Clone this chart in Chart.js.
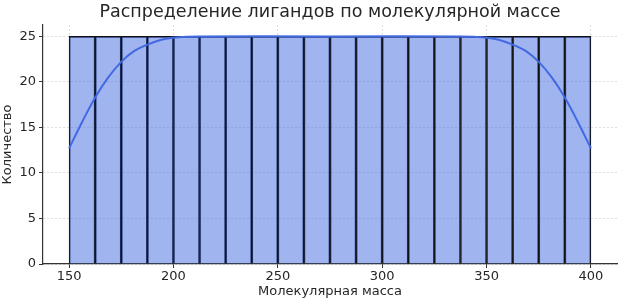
<!DOCTYPE html>
<html>
<head>
<meta charset="utf-8">
<script src="https://cdn.jsdelivr.net/npm/chart.js@4"></script>
<style>
  html, body { margin: 0; padding: 0; background: #fff; }
  #wrap { width: 621px; height: 300px; }
</style>
</head>
<body>
<div id="wrap"><canvas id="c" width="621" height="300"></canvas></div>
<script>
// Histogram of ligand molecular masses with KDE overlay

const TITLE = 'Распределение лигандов по молекулярной массе';
const X_LABEL = 'Молекулярная масса';
const Y_LABEL = 'Количество';

// bin centres (bins of 12.5 from 150 to 400)
const binCenters = [156.25, 168.75, 181.25, 193.75, 206.25, 218.75, 231.25, 243.75, 256.25, 268.75,
                    281.25, 293.75, 306.25, 318.75, 331.25, 343.75, 356.25, 368.75, 381.25, 393.75];
const binCounts = [25, 25, 25, 25, 25, 25, 25, 25, 25, 25,
                   25, 25, 25, 25, 25, 25, 25, 25, 25, 25];

// KDE curve
const kdeX = [150, 156.25, 162.5, 168.75, 175, 181.25, 187.5, 193.75, 200, 206.25, 212.5,
              275, 337.5, 343.75, 350, 356.25, 362.5, 368.75, 375, 381.25, 387.5, 393.75, 400];
const kdeY = [12.7, 15.6, 18.3, 20.5, 22.2, 23.4, 24.1, 24.6, 24.85, 24.95, 25.0,
              25.0, 25.0, 24.95, 24.85, 24.6, 24.1, 23.4, 22.2, 20.5, 18.3, 15.6, 12.7];

const xTicks = [150, 200, 250, 300, 350, 400];
const yTicks = [0, 5, 10, 15, 20, 25];

const FONT = 'DejaVu Sans';
const TEXT = '#262626';

// title centred over the plot area, like matplotlib
const axesTitle = {
  id: 'axesTitle',
  afterDraw(chart) {
    const { ctx, chartArea } = chart;
    ctx.save();
    ctx.font = `17.5px "${FONT}"`;
    ctx.fillStyle = TEXT;
    ctx.textAlign = 'center';
    ctx.textBaseline = 'middle';
    ctx.fillText(TITLE, (chartArea.left + chartArea.right) / 2, 12);
    ctx.restore();
  }
};

const gridStyle = {
  color: '#dcdcdc',
  lineWidth: 1,
  tickLength: 4,
  tickColor: '#333',
  tickBorderDash: [],
  offset: false,
};

new Chart(document.getElementById('c'), {
  type: 'bar',
  data: {
    datasets: [
      {
        type: 'line',
        data: kdeX.map((x, i) => ({ x, y: kdeY[i] })),
        borderColor: '#4169e1',
        borderWidth: 2,
        pointRadius: 0,
        tension: 0.4,
        fill: false,
        order: 0,
      },
      {
        data: binCenters.map((x, i) => ({ x, y: binCounts[i] })),
        backgroundColor: 'rgba(65,105,225,0.5)',
        borderColor: '#111',
        borderWidth: 1,
        barPercentage: 1,
        categoryPercentage: 1,
        order: 1,
      },
    ],
  },
  plugins: [axesTitle],
  options: {
    responsive: false,
    animation: false,
    layout: { padding: { top: 25, right: 4, left: 0, bottom: 0 } },
    plugins: { legend: { display: false }, tooltip: { enabled: false }, title: { display: false } },
    scales: {
      x: {
        type: 'linear',
        min: 137.5,
        max: 412.5,
        offset: false,
        afterBuildTicks: s => { s.ticks = xTicks.map(v => ({ value: v })); },
        afterFit: s => { s.height = 36; },
        grid: gridStyle,
        border: { display: true, color: '#333', width: 1.2, dash: [2, 2] },
        ticks: { color: TEXT, font: { family: FONT, size: 13 }, padding: 1, maxRotation: 0 },
        title: { display: true, text: X_LABEL, color: TEXT, font: { family: FONT, size: 13 }, padding: { top: 0, bottom: 1 } },
      },
      y: {
        min: 0,
        max: 26.25,
        afterBuildTicks: s => { s.ticks = yTicks.map(v => ({ value: v })); },
        afterFit: s => { s.width = 43; },
        grid: gridStyle,
        border: { display: true, color: '#333', width: 1.2, dash: [2, 2] },
        ticks: { color: TEXT, font: { family: FONT, size: 13 }, padding: 3 },
        title: { display: true, text: Y_LABEL, color: TEXT, font: { family: FONT, size: 13 }, padding: { top: 0, bottom: 2 } },
      },
    },
  },
});
</script>
</body>
</html>
